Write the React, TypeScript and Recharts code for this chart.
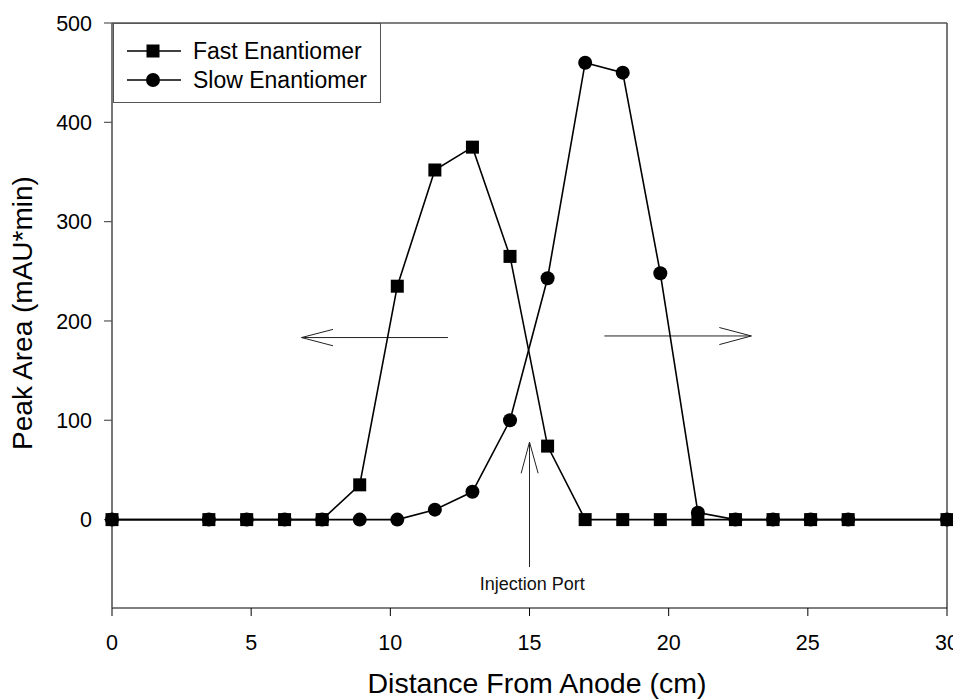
import React from 'react';
import { LineChart, Line, XAxis, YAxis, ReferenceLine, ReferenceDot, Label } from 'recharts';

const positions = [0, 3.48, 4.84, 6.2, 7.55, 8.9, 10.25, 11.6, 12.95, 14.3, 15.65, 17.0, 18.35, 19.7, 21.05, 22.4, 23.75, 25.1, 26.45, 30];
const fastEnantiomer = [0, 0, 0, 0, 0, 35, 235, 352, 375, 265, 74, 0, 0, 0, 0, 0, 0, 0, 0, 0];
const slowEnantiomer = [0, 0, 0, 0, 0, 0, 0, 10, 28, 100, 243, 460, 450, 248, 7, 0, 0, 0, 0, 0];
const seriesNames = ['Fast Enantiomer', 'Slow Enantiomer'];
const xTicks = [0, 5, 10, 15, 20, 25, 30];
const yTicks = [0, 100, 200, 300, 400, 500];
const xTitle = 'Distance From Anode (cm)';
const yTitle = 'Peak Area (mAU*min)';
const injectionLabel = 'Injection Port';
const injectionLabelPos = { x: 15.1, y: -64 };

// annotation arrows in data coordinates
const leftArrow = [
  [{ x: 6.81, y: 183.3 }, { x: 12.07, y: 183.3 }],
  [{ x: 6.81, y: 183.3 }, { x: 7.94, y: 191.5 }],
  [{ x: 6.81, y: 183.3 }, { x: 7.94, y: 175 }],
];
const rightArrow = [
  [{ x: 17.69, y: 184.9 }, { x: 22.97, y: 184.9 }],
  [{ x: 22.97, y: 184.9 }, { x: 21.82, y: 193.4 }],
  [{ x: 22.97, y: 184.9 }, { x: 21.82, y: 176.2 }],
];
const upArrow = [
  [{ x: 15.0, y: -47.7 }, { x: 15.0, y: 78.1 }],
  [{ x: 15.0, y: 78.1 }, { x: 14.7, y: 46.6 }],
  [{ x: 15.0, y: 78.1 }, { x: 15.31, y: 46.6 }],
];

const data = positions.map((p, i) => ({ x: p, fast: fastEnantiomer[i], slow: slowEnantiomer[i] }));

const FONT = '"Liberation Sans", Arial, sans-serif';
const FRAME = '#555';

if (typeof document !== 'undefined') {
  document.documentElement.style.overflow = 'hidden';
  document.body.style.overflow = 'hidden';
}

const SquareDot = (props: any) => {
  const { cx, cy, index } = props;
  if (cx == null || cy == null) return <g key={`s${index}`} />;
  return <rect key={`s${index}`} x={cx - 6.5} y={cy - 6.5} width={13} height={13} fill="#000" />;
};
const CircleDot = (props: any) => {
  const { cx, cy, index } = props;
  if (cx == null || cy == null) return <g key={`c${index}`} />;
  return <circle key={`c${index}`} cx={cx} cy={cy} r={7} fill="#000" />;
};

const LegendBox = () => (
  <div
    style={{
      position: 'absolute',
      left: 105,
      top: 15,
      width: 268,
      height: 80,
      border: `1px solid ${FRAME}`,
      background: '#fff',
      boxSizing: 'border-box',
      fontFamily: FONT,
      fontSize: 23,
      color: '#000',
    }}
  >
    {seriesNames.map((name, i) => (
      <div key={name} style={{ position: 'absolute', left: 0, top: i === 0 ? 12 : 41, height: 30, width: 266 }}>
        <svg width={70} height={30} style={{ position: 'absolute', left: 0, top: 0 }}>
          <line x1={13} x2={67} y1={15} y2={15} stroke="#000" strokeWidth={1.6} />
          {i === 0 ? (
            <rect x={32.5} y={8.5} width={13} height={13} fill="#000" />
          ) : (
            <circle cx={39} cy={15} r={7} fill="#000" />
          )}
        </svg>
        <span style={{ position: 'absolute', left: 79, top: 15, transform: 'translateY(-50%)', whiteSpace: 'nowrap', lineHeight: 1 }}>
          {name}
        </span>
      </div>
    ))}
  </div>
);

const segs = [...leftArrow, ...rightArrow, ...upArrow];

export default function App() {
  return (
    <div style={{ width: 953, height: 692, position: 'relative' }}>
      <LineChart
        width={953}
        height={692}
        data={data}
        margin={{ top: 15, right: 14, left: 0, bottom: 12 }}
      >
        <XAxis
          dataKey="x"
          type="number"
          domain={[0, 30]}
          ticks={xTicks}
          interval={0}
          height={80}
          stroke="#000"
          tickSize={8}
          tickMargin={19}
          tick={{ fontSize: 21.5, fill: '#000', fontFamily: FONT }}
          tickLine={{ stroke: '#000' }}
          axisLine={{ stroke: '#000', strokeWidth: 1.2 }}
        >
          <Label
            content={() => (
              <text x={529} y={685} textAnchor="middle" fontSize={28.5} fontFamily={FONT} fill="#000">
                {xTitle}
              </text>
            )}
          />
        </XAxis>
        <YAxis
          type="number"
          domain={[-89, 500]}
          ticks={yTicks}
          interval={0}
          width={104}
          tickSize={8}
          tickMargin={12}
          tick={{ fontSize: 21.5, fill: '#000', fontFamily: FONT }}
          tickLine={{ stroke: FRAME, strokeWidth: 1.2 }}
          axisLine={{ stroke: FRAME, strokeWidth: 1.6 }}
        >
          <Label
            content={() => (
              <text
                x={24}
                y={305}
                textAnchor="middle"
                fontSize={28}
                fontFamily={FONT}
                fill="#000"
                transform="rotate(-90, 24, 305)"
              >
                {yTitle}
              </text>
            )}
          />
        </YAxis>
        <ReferenceLine y={500} stroke={FRAME} strokeWidth={1.6} ifOverflow="extendDomain" />
        <ReferenceLine x={30} stroke={FRAME} strokeWidth={1.6} ifOverflow="extendDomain" />
        {segs.map((s, i) => (
          <ReferenceLine key={`a${i}`} segment={s} stroke="#222" strokeWidth={1} ifOverflow="visible" />
        ))}
        <ReferenceDot
          x={injectionLabelPos.x}
          y={injectionLabelPos.y}
          r={0}
          fill="none"
          stroke="none"
          ifOverflow="visible"
          label={{ value: injectionLabel, position: 'center', fontSize: 18, fill: '#111', fontFamily: FONT }}
        />
        <Line
          dataKey="fast"
          name={seriesNames[0]}
          stroke="#000"
          strokeWidth={1.6}
          dot={SquareDot}
          activeDot={false}
          isAnimationActive={false}
        />
        <Line
          dataKey="slow"
          name={seriesNames[1]}
          stroke="#000"
          strokeWidth={1.6}
          dot={CircleDot}
          activeDot={false}
          isAnimationActive={false}
        />
      </LineChart>
      <LegendBox />
    </div>
  );
}
